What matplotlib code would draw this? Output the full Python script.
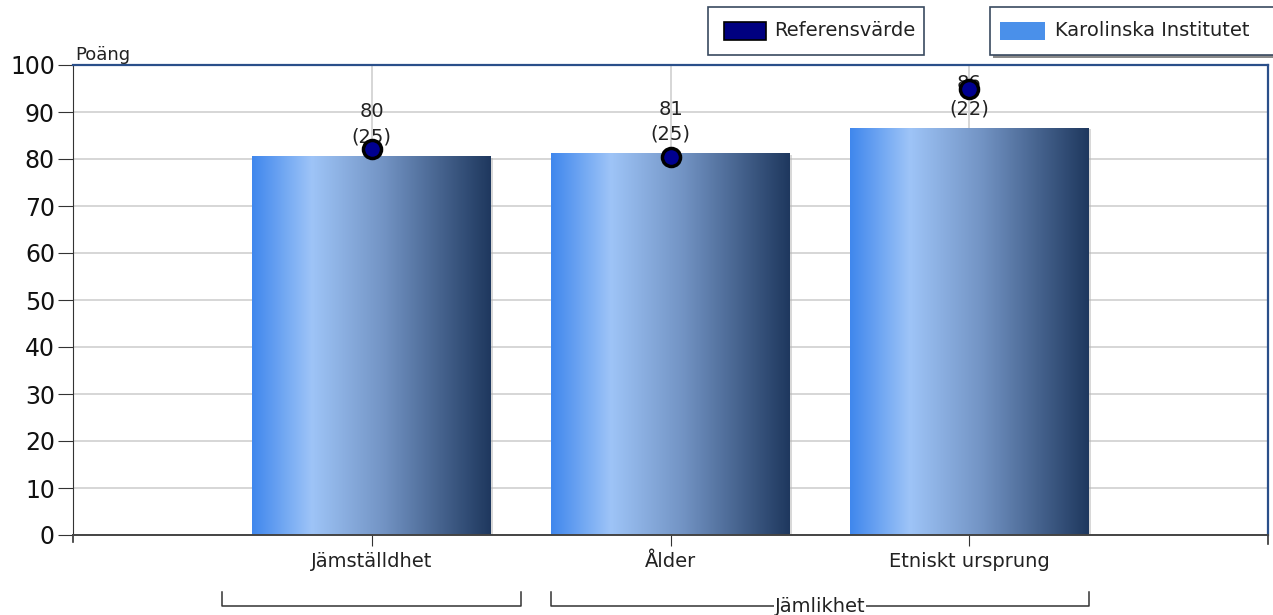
import matplotlib
matplotlib.use("Agg")
import matplotlib.pyplot as plt
import numpy as np
from matplotlib.colors import LinearSegmentedColormap
from matplotlib.patches import Rectangle

plt.rcParams['font.family'] = ['DejaVu Sans']

categories = ["Jämställdhet", "Ålder", "Etniskt ursprung"]
ki_values = [80.6, 81.2, 86.6]
ki_labels = ["80", "81", "86"]
ki_counts = ["(25)", "(25)", "(22)"]
ref_values = [82.2, 80.4, 95.0]
series_names = ["Referensvärde", "Karolinska Institutet"]
group_label = "Jämlikhet"
y_ticks = [0, 10, 20, 30, 40, 50, 60, 70, 80, 90, 100]

W, H = 1273, 615
fig = plt.figure(figsize=(W / 100, H / 100), dpi=100)
ax = fig.add_axes([73 / W, 80 / H, 1195 / W, 470 / H])

x = np.arange(len(categories))
bar_w = 0.8
cmap = LinearSegmentedColormap.from_list(
    "barg",
    [(0.0, (0.25, 0.53, 0.93)), (0.25, (0.62, 0.77, 0.97)),
     (0.55, (0.45, 0.58, 0.77)), (1.0, (0.12, 0.22, 0.37))])
grad = np.linspace(0, 1, 256).reshape(1, -1)

bars = ax.bar(x, ki_values, width=bar_w, color="none", edgecolor="none", zorder=2)
for b in bars:
    x0, y0 = b.get_x(), b.get_y()
    w, h = b.get_width(), b.get_height()
    ax.add_patch(Rectangle((x0 + 0.006, y0), w, h - 0.3, facecolor=(0.7, 0.7, 0.7, 0.5),
                           edgecolor="none", zorder=1.9))
    im = ax.imshow(grad, cmap=cmap, aspect="auto", extent=(x0, x0 + w, y0, y0 + h),
                   zorder=2, interpolation="bicubic")
    im.set_clip_path(b)

for i, (v, l, c) in enumerate(zip(ki_values, ki_labels, ki_counts)):
    ax.text(x[i], v + 2.0, c, ha="center", va="bottom", fontsize=14, color="#222222", zorder=3)
    ax.text(x[i], v + 7.4, l, ha="center", va="bottom", fontsize=14, color="#222222", zorder=3)

ax.plot(x, ref_values, linestyle="none", marker="o", markersize=13,
        markerfacecolor="#000090", markeredgecolor="black", markeredgewidth=2.5, zorder=5,
        clip_on=False)

ax.set_xlim(-1, 3)
ax.set_ylim(0, 100)
ax.set_yticks(y_ticks)
ax.set_yticklabels([str(t) for t in y_ticks], fontsize=17, color="#111111")
ax.set_xticks(x)
ax.set_xticklabels(categories, fontsize=14, color="#222222")
ax.tick_params(axis="x", length=8, pad=4, color="#333333", direction="out")
ax.tick_params(axis="y", length=11, pad=2, color="#333333")
ax.grid(True, color="#d0d0d0", linewidth=1.2, zorder=0)
ax.set_axisbelow(True)

for side in ["top", "right"]:
    ax.spines[side].set_color("#2a4f8a")
    ax.spines[side].set_linewidth(1.6)
ax.spines["left"].set_color("#333333")
ax.spines["bottom"].set_color("#444444")
ax.spines["bottom"].set_linewidth(1.4)

ax.plot([-1, -1], [0, -1.5], color="#333333", lw=1.2, clip_on=False)
ax.plot([3, 3], [0, -2], color="#333333", lw=1.2, clip_on=False)

fig.text(75 / W, 1 - 55 / H, "Poäng", fontsize=13, ha="left", va="center", color="#222222")

tr = ax.get_xaxis_transform()
yb0, yb1 = -0.122, -0.152
ax.plot([-0.5, -0.5, 0.5, 0.5], [yb0, yb1, yb1, yb0], color="#333333", lw=1.1,
        transform=tr, clip_on=False)
ax.plot([0.6, 0.6, 2.4, 2.4], [yb0, yb1, yb1, yb0], color="#333333", lw=1.1,
        transform=tr, clip_on=False)
ax.text(1.5, yb1, group_label, transform=tr, ha="center", va="center", fontsize=14,
        color="#222222", zorder=4,
        bbox=dict(facecolor="white", edgecolor="none", pad=0.5))

def fig_rect(px, py, pw, ph, **kw):
    return Rectangle((px / W, 1 - (py + ph) / H), pw / W, ph / H, transform=fig.transFigure, **kw)

fig.patches.append(fig_rect(708, 7, 216, 48, facecolor="white", edgecolor="#3a4a60", lw=1.2))
fig.patches.append(fig_rect(724, 22, 42, 18, facecolor="#000080", edgecolor="black", lw=1.2))
fig.text(774 / W, 1 - 31 / H, series_names[0], fontsize=14, ha="left", va="center", color="#222222")

fig.patches.append(fig_rect(993, 10, 290, 48, facecolor="#8a8a8a", edgecolor="none"))
fig.patches.append(fig_rect(990, 7, 290, 48, facecolor="white", edgecolor="#3a4a60", lw=1.2))
fig.patches.append(fig_rect(1000, 22, 45, 18, facecolor="#4a90ea", edgecolor="none"))
fig.text(1055 / W, 1 - 31 / H, series_names[1], fontsize=14, ha="left", va="center", color="#222222")

fig.savefig("out.png", dpi=100)
